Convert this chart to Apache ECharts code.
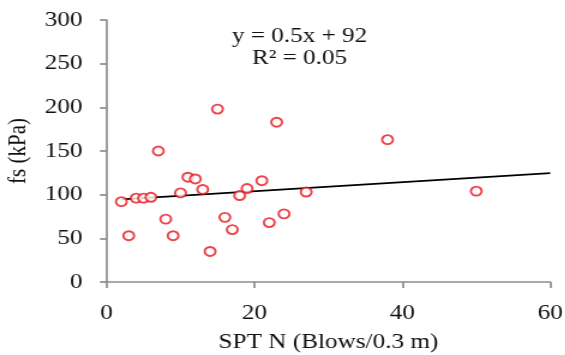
<!DOCTYPE html>
<html><head><meta charset="utf-8">
<script src="https://cdn.jsdelivr.net/npm/echarts@6/dist/echarts.min.js"></script>
<style>
html,body{margin:0;padding:0;background:#fff;overflow:hidden}
#wrap{width:565px;height:355px;overflow:hidden}
#c{width:471px;height:355px;transform:scaleX(1.2);transform-origin:0 0}
</style>
</head><body><div id="wrap"><div id="c"></div></div>
<script>
const sptN = [2, 3, 4, 5, 6, 7, 8, 9, 10, 11, 12, 13, 14, 15, 16, 17, 18, 19, 21, 22, 23, 24, 27, 38, 50];
const fs   = [92, 53, 96, 96, 97, 150, 72, 53, 102, 120, 118, 106, 35, 198, 74, 60, 99, 107, 116, 68, 183, 78, 103, 163, 104];
const trendX = [2, 60];
const trendSlope = 0.52;
const trendIntercept = 93.5;
const xTicks = [0, 20, 40, 60];
const yTicks = [0, 50, 100, 150, 200, 250, 300];
const eqLines = ['y = 0.5x + 92', 'R\u00B2 = 0.05'];

const chart = echarts.init(document.getElementById('c'));
const font = '"Liberation Serif", "Times New Roman", serif';
const txt = '#111';
const axisCol = '#8c8c8c';
chart.setOption({
  animation: false,
  grid: {left: 88.8, right: 12.5, top: 20, bottom: 73, containLabel: false, outerBoundsMode: 'none'},
  xAxis: {
    type: 'value', min: xTicks[0], max: xTicks[xTicks.length-1], interval: 20,
    name: 'SPT N (Blows/0.3 m)', nameLocation: 'middle', nameGap: 50,
    nameTextStyle: {fontFamily: font, fontSize: 21, color: txt},
    axisLine: {lineStyle: {color: axisCol, width: 1.7}},
    axisTick: {show: true, inside: false, length: 6, lineStyle: {color: axisCol, width: 1.7}},
    axisLabel: {fontFamily: font, fontSize: 21, color: txt, margin: 21},
    splitLine: {show: false}
  },
  yAxis: {
    type: 'value', min: yTicks[0], max: yTicks[yTicks.length-1], interval: 50,
    name: 'fs (kPa)', nameLocation: 'middle', nameGap: 58.5, nameRotate: 90,
    nameTextStyle: {fontFamily: font, fontSize: 21, color: txt},
    axisLine: {show: true, lineStyle: {color: axisCol, width: 1.7}},
    axisTick: {show: true, inside: false, length: 5.5, lineStyle: {color: axisCol, width: 1.7}},
    axisLabel: {fontFamily: font, fontSize: 21, color: txt, margin: 20},
    splitLine: {show: false}
  },
  graphic: [{
    type: 'text', x: 249.6, y: 25,
    style: {text: eqLines.join('\n'), fontFamily: font, fontSize: 21, fill: txt,
            textAlign: 'center', textVerticalAlign: 'top', lineHeight: 22.5}
  }],
  series: [
    {
      type: 'line', data: trendX.map(x => [x, trendSlope * x + trendIntercept]),
      showSymbol: false, lineStyle: {color: '#000', width: 1.7}, z: 1
    },
    {
      type: 'scatter', data: sptN.map((x, i) => [x, fs[i]]),
      symbol: 'circle', symbolSize: 9,
      itemStyle: {color: '#fff', borderColor: '#e8141c', borderWidth: 1.9}, z: 2
    }
  ]
});
</script></body></html>
